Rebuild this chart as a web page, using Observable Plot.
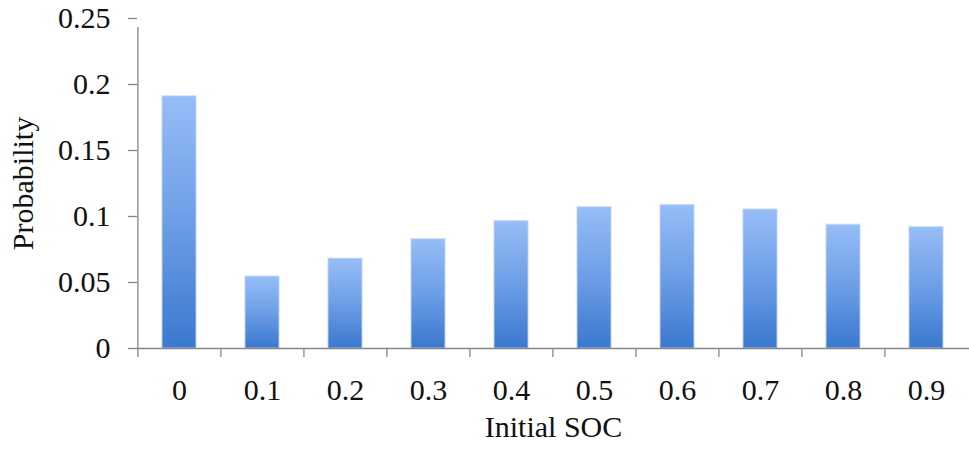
<!DOCTYPE html>
<html>
<head>
<meta charset="utf-8">
<script src="https://cdn.jsdelivr.net/npm/d3@7"></script>
<script src="https://cdn.jsdelivr.net/npm/@observablehq/plot@0.6"></script>
<style>
  html, body { margin: 0; padding: 0; background: #fff; }
  #chart { width: 969px; height: 450px; }
  #chart svg text { font-family: "Liberation Serif", "Times New Roman", serif !important; }
</style>
</head>
<body>
<div id="chart"></div>
<script>
const categories = ["0", "0.1", "0.2", "0.3", "0.4", "0.5", "0.6", "0.7", "0.8", "0.9"];
const probabilities = [0.191, 0.0545, 0.068, 0.0828, 0.0965, 0.107, 0.1086, 0.1053, 0.0937, 0.0919];
const yTicks = [0, 0.05, 0.1, 0.15, 0.2, 0.25];
const xLabel = "Initial SOC";
const yLabel = "Probability";

const data = categories.map((c, i) => ({soc: c, p: probabilities[i]}));

const W = 969, H = 450, ML = 137, MR = 0, MT = 18, MB = 102;
const step = (W - ML - MR) / categories.length;
const font = "Liberation Serif";
const fs = 30;
const axisColor = "#868686";
const textColor = "#111";

const chart = Plot.plot({
  width: W,
  height: H,
  marginLeft: ML,
  marginRight: MR,
  marginTop: MT,
  marginBottom: MB,
  style: {fontFamily: font, fontSize: fs + "px", color: textColor, background: "#fff"},
  x: {domain: categories, paddingInner: 0.59, paddingOuter: 0.295, label: null},
  y: {domain: [0, 0.25], label: null},
  marks: [
    Plot.barY(data, {x: "soc", y: "p", fill: "url(#barGrad)", stroke: "#bcd4f4", strokeWidth: 1.5, strokeOpacity: 0.6}),
    Plot.ruleY([0], {stroke: axisColor, strokeWidth: 1.3}),
    Plot.ruleX([0], {x: () => categories[0], y1: 0, y2: 0.25, dx: -step / 2, insetBottom: -9, stroke: axisColor, strokeWidth: 1.3}),
    Plot.ruleX(categories, {x: d => d, y1: 0, y2: 0, dx: -step / 2, insetBottom: -9, stroke: axisColor, strokeWidth: 1.3}),
    Plot.axisY({ticks: yTicks, tickFormat: d => String(d), tickSize: 9, tickPadding: 18, stroke: axisColor, fill: textColor, strokeWidth: 1.3, fontSize: fs, fontFamily: font}),
    Plot.axisX({tickSize: 0, tickPadding: 30, fill: textColor, fontSize: fs, fontFamily: font}),
    Plot.text([xLabel], {frameAnchor: "bottom", dy: 67, lineAnchor: "top", fontSize: fs, fontFamily: font, fill: textColor}),
    Plot.text([yLabel], {frameAnchor: "left", dx: -114, rotate: -90, textAnchor: "middle", lineAnchor: "middle", fontSize: fs, fontFamily: font, fill: textColor})
  ]
});

chart.setAttribute("font-family", font);
chart.setAttribute("font-size", fs);

const defs = d3.create("svg:defs");
const grad = defs.append("linearGradient").attr("id", "barGrad").attr("x1", 0).attr("y1", 0).attr("x2", 0).attr("y2", 1);
grad.append("stop").attr("offset", "0%").attr("stop-color", "#96bdf7");
grad.append("stop").attr("offset", "50%").attr("stop-color", "#6d9ee6");
grad.append("stop").attr("offset", "100%").attr("stop-color", "#3a78cf");
chart.insertBefore(defs.node(), chart.firstChild);

document.getElementById("chart").appendChild(chart);
</script>
</body>
</html>
